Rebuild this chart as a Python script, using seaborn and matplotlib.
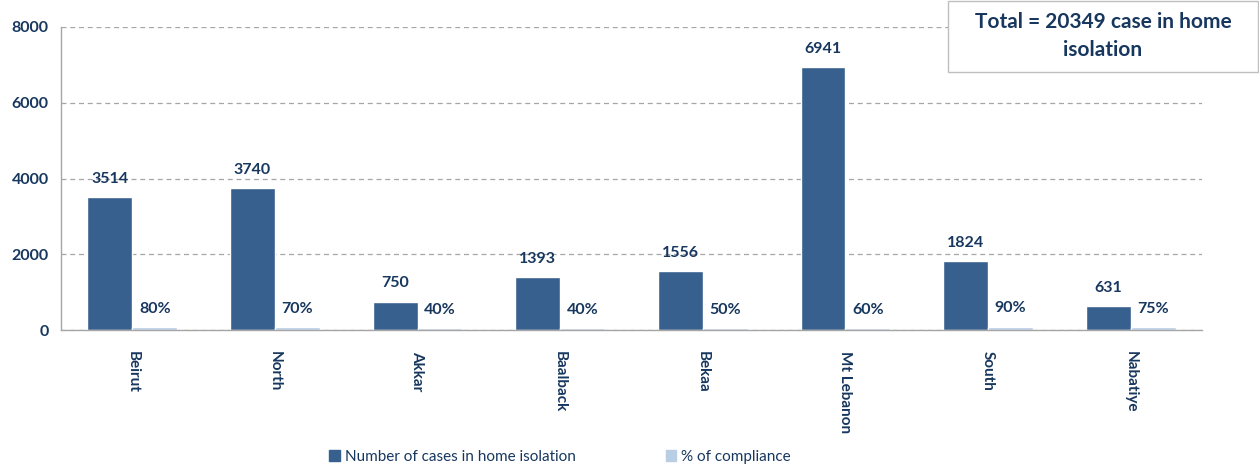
import matplotlib
matplotlib.use("Agg")
import matplotlib.pyplot as plt
import numpy as np
import pandas as pd
import seaborn as sns
from matplotlib.patches import Rectangle

regions = ["Beirut", "North", "Akkar", "Baalback", "Bekaa", "Mt Lebanon", "South", "Nabatiye"]
cases = [3514, 3740, 750, 1393, 1556, 6941, 1824, 631]
compliance = [80, 70, 40, 40, 50, 60, 90, 75]
series_names = ["Number of cases in home isolation", "% of compliance"]
total_text = "Total = 20349 case in home\nisolation"

dark = "#37608f"
light = "#b9cde5"
navy = "#17375e"

df = pd.DataFrame({
    "region": regions * 2,
    "series": [series_names[0]] * len(regions) + [series_names[1]] * len(regions),
    "value": cases + compliance,
})

sns.set_style("white")
plt.rcParams["font.family"] = ["Lato", "DejaVu Sans"]

fig = plt.figure(figsize=(12.59, 4.70), dpi=100)
ax = fig.add_axes([61 / 1259, 140 / 470, 1141 / 1259, 303 / 470])

sns.barplot(data=df, x="region", y="value", hue="series", order=regions,
            hue_order=series_names, palette=[dark, light], width=0.63,
            saturation=1, legend=False, ax=ax)

ax.set_ylim(0, 8000)
ax.set_xlim(-0.5, len(regions) - 0.5)
ax.set_yticks([0, 2000, 4000, 6000, 8000])
ax.yaxis.grid(True, linestyle=(0, (4, 3)), color="#a6a6a6", linewidth=0.9)
ax.set_axisbelow(True)
ax.set_xlabel("")
ax.set_ylabel("")

for side in ["top", "right"]:
    ax.spines[side].set_visible(False)
for side in ["left", "bottom"]:
    ax.spines[side].set_color("#a6a6a6")
    ax.spines[side].set_linewidth(1.0)

ax.tick_params(axis="y", length=5, color="#a6a6a6", labelsize=11.5, labelcolor=navy, pad=4)
for lab in ax.get_yticklabels():
    lab.set_fontweight("bold")

ax.set_xticks(np.arange(len(regions)))
ax.set_xticklabels(regions, rotation=270, fontsize=11, fontweight="bold", color=navy)
ax.tick_params(axis="x", which="major", length=0, pad=15)
ax.set_xticks(np.arange(len(regions) + 1) - 0.5, minor=True)
ax.tick_params(axis="x", which="minor", length=5, color="#a6a6a6")

# value labels
for container, fmt in zip(ax.containers, ["{:.0f}", "{:.0f}%"]):
    for bar in container:
        h = bar.get_height()
        ax.annotate(fmt.format(h), (bar.get_x() + bar.get_width() / 2, h),
                    xytext=(0, 8), textcoords="offset points", ha="center", va="bottom",
                    fontsize=11.5, fontweight="bold", color=navy)

# total box
fig.patches.append(Rectangle((948 / 1259, 398 / 470), 310 / 1259, 71 / 470,
                             transform=fig.transFigure, facecolor="white",
                             edgecolor="#bfbfbf", linewidth=1.0, zorder=5))
fig.text(1103 / 1259, 434 / 470, total_text, ha="center", va="center",
         fontsize=15, fontweight="bold", color=navy, linespacing=1.5, zorder=6)

handles = [Rectangle((0, 0), 1, 1, color=dark), Rectangle((0, 0), 1, 1, color=light)]
fig.legend(handles, series_names, loc="center", bbox_to_anchor=(560 / 1259, 13 / 470),
           ncol=2, frameon=False, handlelength=0.7, handleheight=0.7, handletextpad=0.3,
           columnspacing=5.9, fontsize=11, labelcolor=navy)

fig.savefig("out.png", dpi=100)
